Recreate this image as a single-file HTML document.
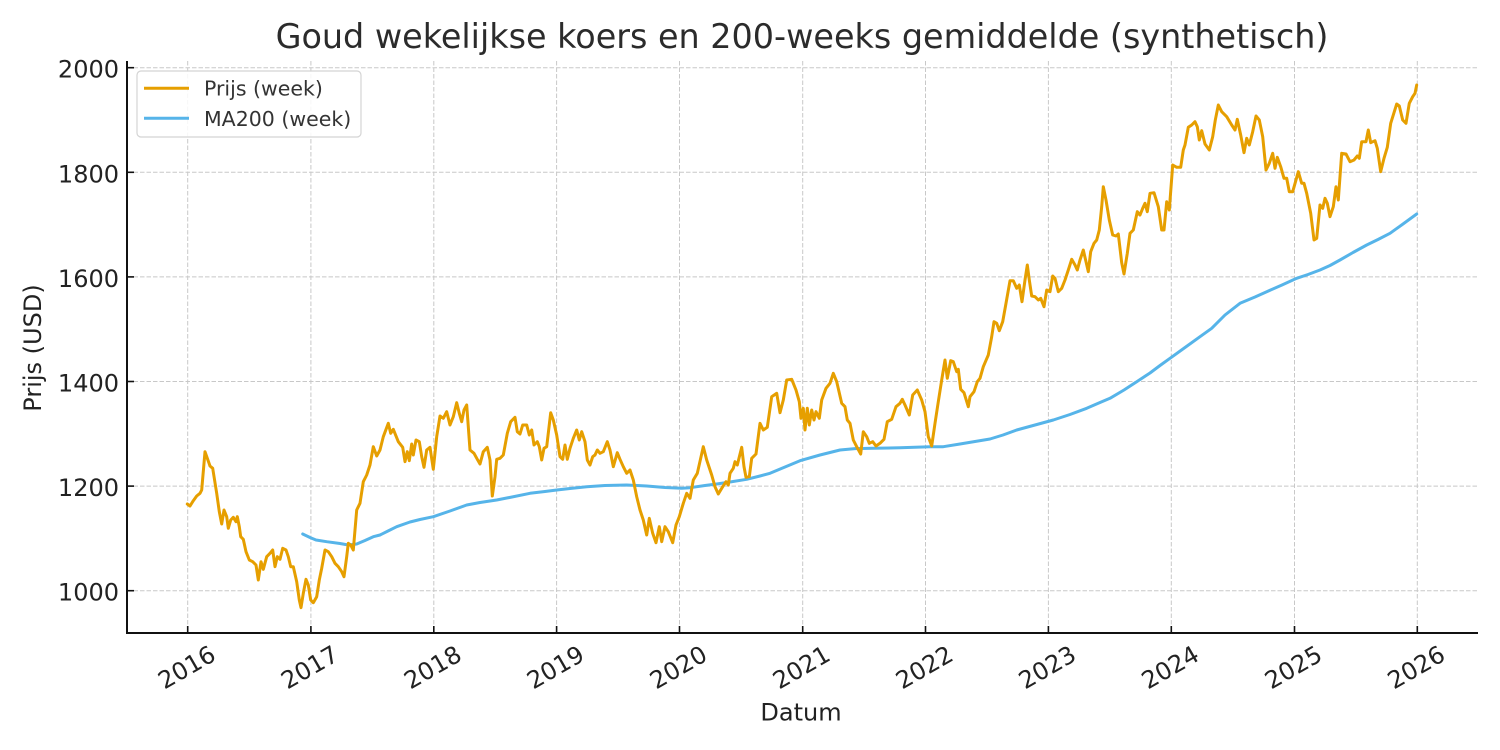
<!DOCTYPE html>
<html>
<head>
<meta charset="utf-8">
<style>
  html, body { margin: 0; padding: 0; background: #ffffff; }
  svg { display: block; }
  text { font-family: "DejaVu Sans", "Liberation Sans", sans-serif; fill: #222; }
</style>
</head>
<body>
<svg width="1500" height="750" viewBox="0 0 1500 750" xmlns="http://www.w3.org/2000/svg">
  <rect x="0" y="0" width="1500" height="750" fill="#ffffff"/>

  <!-- Title -->
  <text x="802" y="48" font-size="33.4" text-anchor="middle" style="fill:#2b2b2b">Goud wekelijkse koers en 200-weeks gemiddelde (synthetisch)</text>

  <!-- Grid -->
  <g stroke="#c8c8c8" stroke-width="1" stroke-dasharray="4.5 2" fill="none">
    <line x1="187.7" y1="61" x2="187.7" y2="633"/>
    <line x1="310.9" y1="61" x2="310.9" y2="633"/>
    <line x1="433.8" y1="61" x2="433.8" y2="633"/>
    <line x1="556.6" y1="61" x2="556.6" y2="633"/>
    <line x1="679.5" y1="61" x2="679.5" y2="633"/>
    <line x1="802.7" y1="61" x2="802.7" y2="633"/>
    <line x1="925.5" y1="61" x2="925.5" y2="633"/>
    <line x1="1048.4" y1="61" x2="1048.4" y2="633"/>
    <line x1="1171.3" y1="61" x2="1171.3" y2="633"/>
    <line x1="1294.5" y1="61" x2="1294.5" y2="633"/>
    <line x1="1417.3" y1="61" x2="1417.3" y2="633"/>
    <line x1="127" y1="590.7" x2="1478" y2="590.7"/>
    <line x1="127" y1="486.1" x2="1478" y2="486.1"/>
    <line x1="127" y1="381.5" x2="1478" y2="381.5"/>
    <line x1="127" y1="276.9" x2="1478" y2="276.9"/>
    <line x1="127" y1="172.3" x2="1478" y2="172.3"/>
    <line x1="127" y1="67.7" x2="1478" y2="67.7"/>
  </g>

  <!-- MA200 line -->
  <polyline fill="none" stroke="#56B4E9" stroke-width="3" stroke-linejoin="round" stroke-linecap="round"
    points="302.7,534 310,537.5 316,540 326.7,541.7 340,543.5 348.3,545 356.7,544 365,540.5 373.3,536.7 380,535 388,531 396.7,526.7 410,522 420,519.5 433.3,516.7 450,511 466.7,505 480,502.5 496.7,500 512,497 530,493.3 545,491.5 556.7,490 570,488.5 586.7,486.7 605,485.5 626.7,485 646.7,486 665,487.5 681.7,488.3 690,487.7 705,485.5 716.7,484 730,482 746.7,479.3 760,476 770,473.3 785,467 800,460.7 820,455 840,450 855,448.6 873.3,448.3 900,447.8 930,446.7 943.3,446.7 960,444 975,441.5 990,439 1003,435 1016.7,430 1035,425 1053.3,420 1070,414.5 1086.7,408.3 1100,402.5 1110,398.3 1124,390 1136.7,381.7 1150,373 1160,365.5 1170,358.3 1185,347.5 1200,336.7 1211.7,328.3 1225,315 1240,303.3 1255,297 1266.7,291.7 1282,285 1296.7,278.3 1308,274.5 1320,270 1330,265.5 1340,260 1353,252.5 1366.7,245 1378,239.5 1390,233.3 1403,224 1416.7,214"/>

  <!-- Price line -->
  <polyline fill="none" stroke="#E69F00" stroke-width="3" stroke-linejoin="round" stroke-linecap="round"
    points="187.3,504 190,506 193.3,500.7 196.7,496 200,493.3 201.7,490 205,451.7 207.3,458.3 210,466 212.7,468.3 216.7,493.3 219.3,511.7 221.7,524 224,510 226.7,516.7 228.3,528.3 230.7,520 233.3,517.3 236,521.7 237.3,516.7 239.3,526.7 240.7,536.7 243.3,539.3 246,551.7 249.3,560 252.7,561.7 256,565 258.3,580 261,561.7 263.3,569.3 266.7,556.7 270,553.3 272.7,550 275,566.7 277.3,556.7 280,559.3 282.7,548.3 286,550 288.3,556.7 290.7,566.7 293.3,566.7 296.7,581.7 299.3,600 301,607.7 303.3,593.3 306,579.3 308.3,585 310.7,600 313.3,602.7 316.7,596.7 319.3,580 321.7,568.3 325,550 328.3,551.7 331.7,556.7 335,563.3 338.3,566.7 341.7,571.7 344,576.7 346.7,556.7 348.3,543.3 350.7,545 353.3,550 355,530 356.7,510 360,503.3 363.3,481.7 366.7,475 370,465 373.3,446.7 376.7,456 380,450 383.3,436.7 388.3,423.3 390.7,433.3 393.3,429.3 398.3,441.7 402.7,447.3 405,461.7 407.3,451.7 409.3,460.7 411.7,444 413.3,455 416,440 419.3,441.7 421.7,456.7 424,467.3 426.7,450 430,447.3 433.3,469.3 436.7,436.7 440,416 443.3,418.3 446.7,411.7 450,425 453.3,416.7 456.7,402.7 459.3,413.3 461.7,421.7 464,410 466.7,405 470,450 474,453.3 477.3,459.3 480,464 483.3,451.7 487.3,447.3 490,460 492.3,496 495,476.7 496.7,459.3 500,458.3 503.3,455 507.3,433.3 510.7,421.7 515,417.3 517.3,431.7 520,434 522.7,425 526.7,425 529.3,435 531.7,430 534,445 537.3,441.7 539.3,446.7 541.7,460 544,448.3 546.7,446.7 550.7,412.7 553.3,420 556.7,435 560,456.7 562.7,459.3 565,445 567.3,459.3 570,448.3 573.3,438.3 576.7,430 579.3,440 581.7,431.7 585,441.7 587.3,460 590,465 592.7,456.7 595,455 597.3,450 600,453.3 603.3,451.7 607.3,441.7 610,450 613.3,466.7 617.3,452.7 620,459.3 623.3,466.7 626.7,473.3 630,470 633.3,480 636.7,496.7 640,510 643.3,520 646.7,535 649.3,518.3 652.7,533.3 656,542.7 659.3,526.7 661.7,541.7 665,526.7 668.3,531.7 672.7,542.7 676,525 679.3,516.7 683.3,503.3 686.7,493.3 690,498.3 693.3,480 697.3,473.3 703.3,446.7 706.7,460 711.7,475 715,486.7 718.3,494 721.7,488.3 726,481.7 728.3,485 730,473.3 733.3,468.3 735,461.7 737.3,465 741.7,447.3 744,466.7 746,477.3 749.3,476.7 751.7,458.3 756,454 760,423.3 763.3,430 767.3,427.3 771.7,396.7 776.7,393.3 780,412.7 783.3,400 786.7,380 791.7,379.3 796,390 799.3,401.7 801,418.3 803.3,408.3 805,430 807.3,408.3 809.3,425 811.7,410 814,420 816,411.7 819.3,418.3 821.7,400 826,388.3 830,383.3 833.3,373.3 836.7,381.7 841.7,403.3 845,406.7 847.3,420 850,423.3 853.3,440 856.7,446.7 860.7,454 863.3,431.7 866.7,436.7 869.3,443.3 872.7,441.7 876,446 880,443.3 884,439.3 887.3,421.7 891.7,419.3 896,406.7 900,403.3 902.3,399.3 905,405 909.3,415 912.7,395 917.3,390 921.7,400 925,411.7 928.3,436.7 931.7,446 935,423.3 938.3,401.7 941.7,380 945,360 947.3,378.3 950.7,360.7 953.3,361.7 956.7,371.7 958.3,369.3 960.7,389.3 964,392.7 968.3,406.7 970,396.7 974,391.7 977.3,381.7 980,378.3 983.3,366.7 988.3,355 991.7,336.7 994,321.7 996.7,323.3 999.3,330.7 1002.7,321.7 1006,303.3 1010,280.7 1013.3,280.7 1016.7,288.3 1019.3,285 1022,301.7 1025,280 1027.3,265 1029.3,280 1031.7,296 1035,296.7 1038.3,300 1040.7,298.3 1044,306.7 1046.7,290 1050,291.7 1052.7,276 1055,278.3 1058.3,291.7 1061.7,288.3 1065,280 1068.3,270 1071.7,259.3 1075,265 1077.3,270 1080,260 1083.3,250 1086,261.7 1088.3,271.7 1090.7,251.7 1094,243.3 1096.7,240 1099.3,230 1101.7,206.7 1103.3,186.7 1106,200 1109.3,220 1112.7,235 1116,236 1118.3,234 1121.7,262.7 1124,274 1127.3,253.3 1130,233.3 1133.3,230 1137.3,211.7 1140,215 1142.7,208.3 1145,203.3 1147.3,211.7 1150,193.3 1154,192.7 1158.3,206.7 1161.7,230 1164,230 1166.7,201.7 1169.3,210 1172.7,165 1176.7,167.3 1180.7,167.3 1183.3,150 1185,145 1188.3,127.3 1191.7,125 1195,121.7 1197.3,126.7 1199.3,140 1201.7,130.7 1205,144 1209.3,150 1212.7,136.7 1215.3,120 1218.3,105 1221.7,111.7 1226.7,116.7 1231.7,125 1235,130 1237.3,119.3 1240.7,135 1244,152.7 1246.7,138.3 1249.3,145 1252.7,131.7 1256,116 1259.3,120 1262.7,136.7 1266,170 1269.3,163.3 1272.7,153.3 1275,168.3 1277.3,157.3 1280.7,166.7 1284,178.3 1286.7,178.3 1289.3,191.7 1292.7,191.7 1296,180 1298.3,171.7 1301.7,183.3 1304,183.3 1306.7,193.3 1310.7,213.3 1314,240 1316.7,238.3 1320,205 1322.7,208.3 1325,198.3 1327.3,203.3 1330,216.7 1333.3,206.7 1336,186.7 1338.3,200 1341.7,153.3 1346,154 1350,161.7 1354,160 1357.3,156 1359.3,158.3 1361.7,141.7 1366,141.7 1368.3,130 1370.7,142.7 1375,140.7 1377.3,148.3 1380.7,171.7 1384,158.3 1387.3,147.3 1390.7,123.3 1394,112.7 1396.7,104 1399.3,106 1402.7,120 1406,123.3 1409.3,103.3 1412.7,96.7 1415,93.3 1416.7,85"/>

  <!-- Spines -->
  <line x1="127" y1="61" x2="127" y2="634" stroke="#111" stroke-width="2"/>
  <line x1="126" y1="633" x2="1478" y2="633" stroke="#111" stroke-width="2"/>

  <!-- Ticks (inward) -->
  <g stroke="#111" stroke-width="1.6">
    <line x1="187.7" y1="633" x2="187.7" y2="626"/>
    <line x1="310.9" y1="633" x2="310.9" y2="626"/>
    <line x1="433.8" y1="633" x2="433.8" y2="626"/>
    <line x1="556.6" y1="633" x2="556.6" y2="626"/>
    <line x1="679.5" y1="633" x2="679.5" y2="626"/>
    <line x1="802.7" y1="633" x2="802.7" y2="626"/>
    <line x1="925.5" y1="633" x2="925.5" y2="626"/>
    <line x1="1048.4" y1="633" x2="1048.4" y2="626"/>
    <line x1="1171.3" y1="633" x2="1171.3" y2="626"/>
    <line x1="1294.5" y1="633" x2="1294.5" y2="626"/>
    <line x1="1417.3" y1="633" x2="1417.3" y2="626"/>
    <line x1="127" y1="590.7" x2="134" y2="590.7"/>
    <line x1="127" y1="486.1" x2="134" y2="486.1"/>
    <line x1="127" y1="381.5" x2="134" y2="381.5"/>
    <line x1="127" y1="276.9" x2="134" y2="276.9"/>
    <line x1="127" y1="172.3" x2="134" y2="172.3"/>
    <line x1="127" y1="67.7" x2="134" y2="67.7"/>
  </g>

  <!-- Y tick labels -->
  <g font-size="24" text-anchor="end">
    <text x="119" y="600.7">1000</text>
    <text x="119" y="496.1">1200</text>
    <text x="119" y="391.5">1400</text>
    <text x="119" y="286.9">1600</text>
    <text x="119" y="182.3">1800</text>
    <text x="119" y="77.7">2000</text>
  </g>

  <!-- X tick labels (rotated 30deg) -->
  <g font-size="24" text-anchor="middle">
    <text transform="translate(186.5,667) rotate(-30)" x="0" y="8.7">2016</text>
    <text transform="translate(309.5,667) rotate(-30)" x="0" y="8.7">2017</text>
    <text transform="translate(432.5,667) rotate(-30)" x="0" y="8.7">2018</text>
    <text transform="translate(555.3,667) rotate(-30)" x="0" y="8.7">2019</text>
    <text transform="translate(678.2,667) rotate(-30)" x="0" y="8.7">2020</text>
    <text transform="translate(801.2,667) rotate(-30)" x="0" y="8.7">2021</text>
    <text transform="translate(924.2,667) rotate(-30)" x="0" y="8.7">2022</text>
    <text transform="translate(1047.1,667) rotate(-30)" x="0" y="8.7">2023</text>
    <text transform="translate(1170,667) rotate(-30)" x="0" y="8.7">2024</text>
    <text transform="translate(1293.2,667) rotate(-30)" x="0" y="8.7">2025</text>
    <text transform="translate(1416,667) rotate(-30)" x="0" y="8.7">2026</text>
  </g>

  <!-- Axis labels -->
  <text x="801" y="720.5" font-size="24" text-anchor="middle">Datum</text>
  <text transform="translate(41,348) rotate(-90)" x="0" y="0" font-size="24" text-anchor="middle">Prijs (USD)</text>

  <!-- Legend -->
  <rect x="137" y="71" width="224" height="66" rx="4" ry="4" fill="#ffffff" fill-opacity="0.85" stroke="#d4d4d4" stroke-width="1.2"/>
  <line x1="144" y1="88.3" x2="189" y2="88.3" stroke="#E69F00" stroke-width="3"/>
  <line x1="144" y1="118.3" x2="189" y2="118.3" stroke="#56B4E9" stroke-width="3"/>
  <text x="204" y="95.5" font-size="20.5" style="fill:#333">Prijs (week)</text>
  <text x="204" y="125.8" font-size="20.5" style="fill:#333">MA200 (week)</text>
</svg>
</body>
</html>
